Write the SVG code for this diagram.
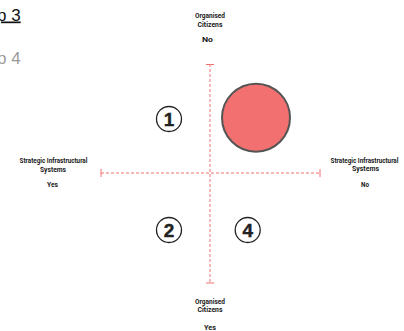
<svg xmlns="http://www.w3.org/2000/svg" width="404" height="331" viewBox="0 0 404 331">
<style>
.lbl{font-family:Roboto,"Liberation Sans",sans-serif;font-weight:700;font-size:7.3px;fill:#1a1a1a;text-anchor:middle}
.wide{font-size:6.3px}
.axis{stroke:#f07070;stroke-width:1;fill:none}
.dash{stroke-dasharray:3 2}
.num{font-family:"Liberation Sans",Arial,sans-serif;font-weight:700;font-size:19px;fill:#222;stroke:#222;stroke-width:0.4;text-anchor:middle}
.ring{fill:none;stroke:#222;stroke-width:1.3}
.step{font-family:"Liberation Sans",Arial,sans-serif;font-size:17px;text-anchor:end}
</style>
<rect width="404" height="331" fill="#fff"/>
<g id="tabs">
<text class="step" x="20.7" y="20.5" fill="#111" text-decoration="underline">p 3</text>
<text class="step" x="20.7" y="64" fill="#9a9a9a">p 4</text>
</g>
<g id="connectors">
<line class="axis dash" x1="210" y1="64" x2="210" y2="283.5"/>
<line class="axis" x1="206" y1="64.5" x2="214" y2="64.5"/>
<line class="axis" x1="206" y1="283" x2="214" y2="283"/>
<line class="axis dash" x1="101" y1="173" x2="320" y2="173"/>
<line class="axis" x1="101" y1="169" x2="101" y2="177"/>
<line class="axis" x1="320" y1="169" x2="320" y2="177"/>
</g>
<g id="label-top">
<text class="lbl" x="210" y="17.7" textLength="30" lengthAdjust="spacingAndGlyphs">Organised</text>
<text class="lbl" x="210" y="26.5" textLength="25" lengthAdjust="spacingAndGlyphs">Citizens</text>
<text class="lbl" x="207.5" y="42.3" textLength="11" lengthAdjust="spacingAndGlyphs">No</text>
</g>
<g id="label-bottom">
<text class="lbl" x="210" y="303.7" textLength="30" lengthAdjust="spacingAndGlyphs">Organised</text>
<text class="lbl" x="210" y="312.2" textLength="25" lengthAdjust="spacingAndGlyphs">Citizens</text>
<text class="lbl" x="210" y="330" textLength="12" lengthAdjust="spacingAndGlyphs">Yes</text>
</g>
<g id="label-left">
<text class="lbl wide" x="53.5" y="163">Strategic Infrastructural</text>
<text class="lbl" x="53" y="171.5" textLength="26" lengthAdjust="spacingAndGlyphs">Systems</text>
<text class="lbl" x="52.5" y="187.3" textLength="11" lengthAdjust="spacingAndGlyphs">Yes</text>
</g>
<g id="label-right">
<text class="lbl wide" x="364.5" y="162.8">Strategic Infrastructural</text>
<text class="lbl" x="365.5" y="171" textLength="27" lengthAdjust="spacingAndGlyphs">Systems</text>
<text class="lbl" x="365" y="187" textLength="8" lengthAdjust="spacingAndGlyphs">No</text>
</g>
<g id="quadrant-1">
<circle class="ring" cx="169" cy="119" r="12.5"/>
<text class="num" x="169" y="125.8">1</text>
</g>
<g id="quadrant-2">
<circle class="ring" cx="169" cy="230" r="12.5"/>
<text class="num" x="169" y="236.8">2</text>
</g>
<g id="quadrant-4">
<circle class="ring" cx="247.7" cy="230" r="12.5"/>
<text class="num" x="247.7" y="236.8">4</text>
</g>
<g id="marker">
<circle cx="256" cy="117.7" r="34" fill="#f27070" stroke="#555" stroke-width="2"/>
</g>
</svg>
